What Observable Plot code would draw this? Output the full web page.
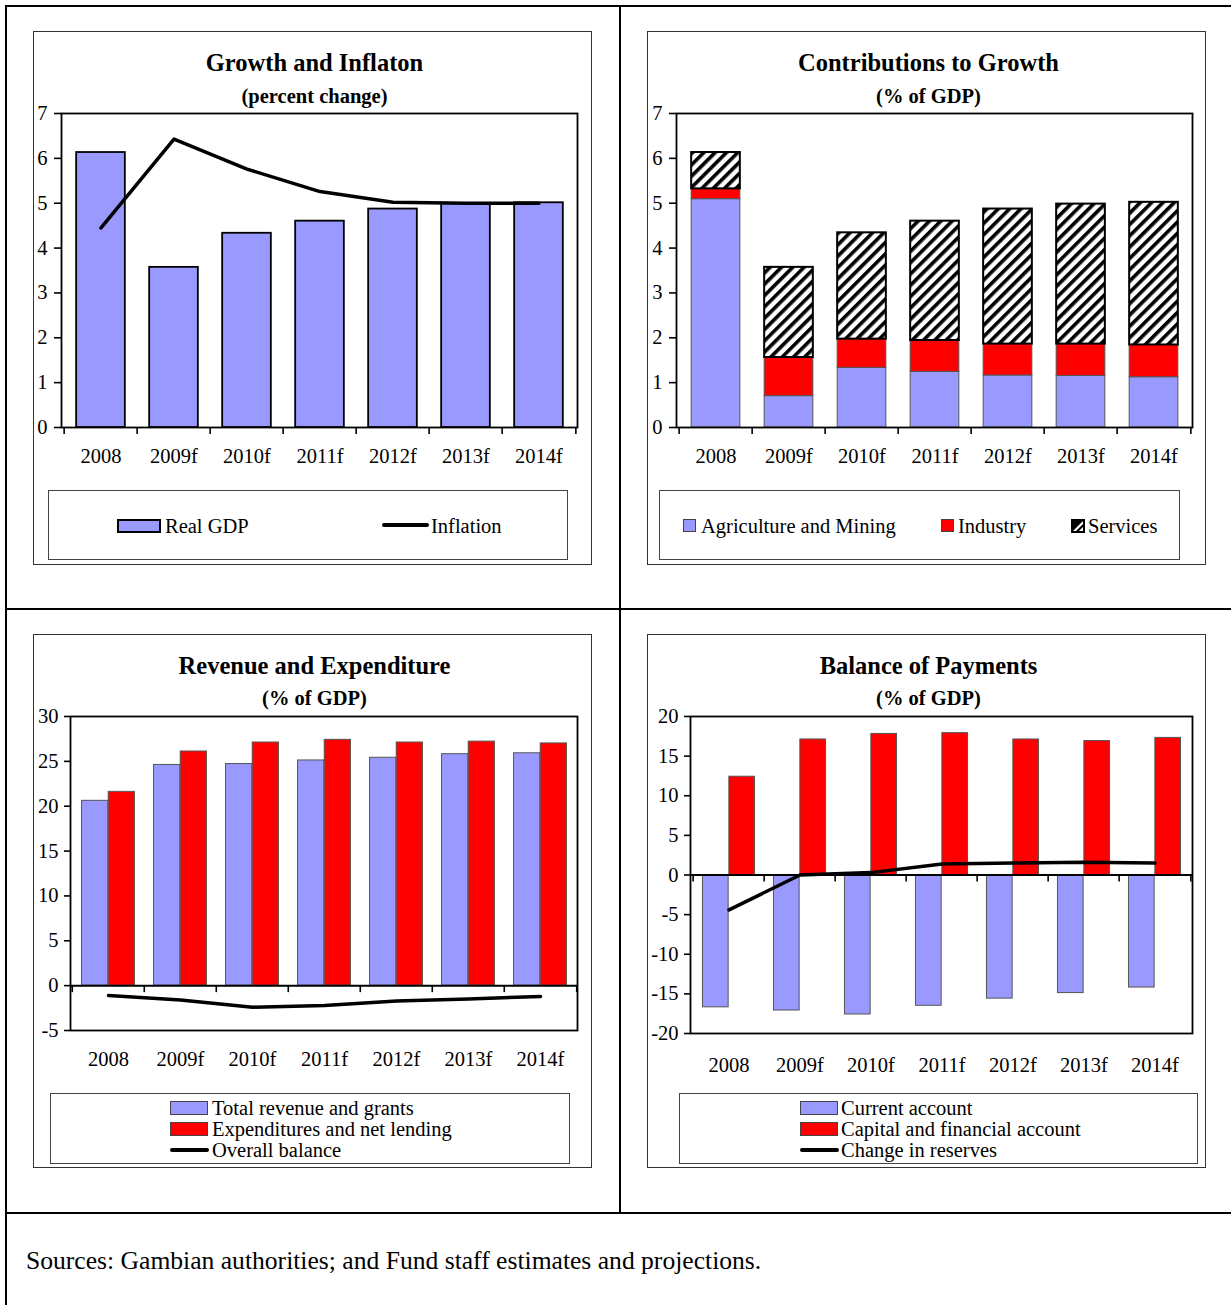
<!DOCTYPE html>
<html>
<head>
<meta charset="utf-8">
<script src="https://cdn.jsdelivr.net/npm/d3@7"></script>
<script src="https://cdn.jsdelivr.net/npm/@observablehq/plot@0.6"></script>
<style>
  html, body { margin: 0; padding: 0; background: #fff; }
  #root { position: relative; width: 1231px; height: 1305px; overflow: hidden; font-family: "Liberation Serif", "Times New Roman", serif; color: #000; }
  .abs { position: absolute; }
  .box { position: absolute; border: 1.5px solid #333; box-sizing: border-box; }
  .lbox { position: absolute; border: 1px solid #444; box-sizing: border-box; }
  .title { position: absolute; font-weight: bold; font-size: 24.5px; line-height: 28px; text-align: center; white-space: nowrap; transform: translateX(-50%); }
  .sub { position: absolute; font-weight: bold; font-size: 20.5px; line-height: 24px; text-align: center; white-space: nowrap; transform: translateX(-50%); }
  .ltext { position: absolute; font-size: 20.5px; line-height: 22px; white-space: nowrap; }
  .rule { position: absolute; background: #000; }
</style>
</head>
<body>
<svg width="0" height="0" style="position:absolute">
  <defs>
    <pattern id="hatch" patternUnits="userSpaceOnUse" width="8" height="8" patternTransform="rotate(45)">
      <rect x="0" y="0" width="8" height="8" fill="#fff"></rect>
      <rect x="0" y="0" width="3.6" height="8" fill="#000"></rect>
    </pattern>
  </defs>
</svg>
<div id="root"></div>
<script>
// ---------------- DATA ----------------
const years = ["2008", "2009f", "2010f", "2011f", "2012f", "2013f", "2014f"];

// Growth and Inflation (percent change)
const realGDP   = [6.13, 3.57, 4.33, 4.60, 4.87, 4.99, 5.01];
const inflation = [4.45, 6.43, 5.76, 5.26, 5.02, 5.00, 5.00];

// Contributions to Growth (% of GDP)
const agriMining = [5.09, 0.70, 1.33, 1.24, 1.16, 1.15, 1.12];
const industry   = [0.23, 0.86, 0.64, 0.70, 0.70, 0.71, 0.72];
const services   = [0.81, 2.01, 2.37, 2.66, 3.01, 3.12, 3.18];

// Revenue and Expenditure (% of GDP)
const revenue      = [20.6, 24.6, 24.7, 25.1, 25.4, 25.8, 25.9];
const expenditures = [21.6, 26.1, 27.1, 27.4, 27.1, 27.2, 27.0];
const balance      = [-1.1, -1.6, -2.4, -2.2, -1.7, -1.5, -1.2];

// Balance of Payments (% of GDP)
const currentAccount = [-16.7, -17.1, -17.6, -16.5, -15.6, -14.9, -14.2];
const capitalAccount = [12.4, 17.1, 17.8, 17.9, 17.1, 16.9, 17.3];
const reserves       = [-4.4, 0.0, 0.3, 1.4, 1.5, 1.6, 1.5];

const ticksP1 = [0, 1, 2, 3, 4, 5, 6, 7];
const ticksP3 = [-5, 0, 5, 10, 15, 20, 25, 30];
const ticksP4 = [-20, -15, -10, -5, 0, 5, 10, 15, 20];

const titles = [
  ["Growth and Inflaton", "(percent change)"],
  ["Contributions to Growth", "(% of GDP)"],
  ["Revenue and Expenditure", "(% of GDP)"],
  ["Balance of Payments", "(% of GDP)"]
];
const sourceNote = "Sources: Gambian authorities; and Fund staff estimates and projections.";

// ---------------- HELPERS ----------------
const root = document.getElementById("root");
function el(cls, css, html) {
  const d = document.createElement("div");
  if (cls) d.className = cls;
  Object.assign(d.style, css);
  if (html !== undefined) d.textContent = html;
  root.appendChild(d);
  return d;
}
const BLUE = "#9999ff", RED = "#ff0000";

// outer grid
el("rule", {left: "5px", top: "5px", width: "1226px", height: "2px"});
el("rule", {left: "5px", top: "5px", width: "2px", height: "1300px"});
el("rule", {left: "619px", top: "6px", width: "2px", height: "1207px"});
el("rule", {left: "6px", top: "608px", width: "1225px", height: "2px"});
el("rule", {left: "6px", top: "1212px", width: "1225px", height: "2px"});

// panel boxes and titles
const panels = [
  {x: 33, y: 31, w: 559, h: 534, ty: 63, sy: 96},
  {x: 647, y: 31, w: 559, h: 534, ty: 63, sy: 96},
  {x: 33, y: 634, w: 559, h: 534, ty: 666, sy: 698},
  {x: 647, y: 634, w: 559, h: 534, ty: 666, sy: 698}
];
panels.forEach((p, i) => {
  el("box", {left: p.x + "px", top: p.y + "px", width: p.w + "px", height: p.h + "px"});
  el("title", {left: (p.x + p.w / 2 + 2) + "px", top: (p.ty - 14) + "px"}, titles[i][0]);
  el("sub", {left: (p.x + p.w / 2 + 2) + "px", top: (p.sy - 12) + "px"}, titles[i][1]);
});

// chart builder
function place(svg, left, top) {
  const d = document.createElement("div");
  d.className = "abs";
  d.style.left = left + "px";
  d.style.top = top + "px";
  d.appendChild(svg);
  root.appendChild(d);
}
const baseStyle = {fontFamily: "Liberation Serif, Times New Roman, serif", fontSize: "20.5px", color: "black", background: "transparent", overflow: "visible"};

function boundaryTicks(step, y0) {
  return [
    Plot.ruleX(years, {x: d => d, y1: () => y0, y2: () => y0, dx: -step / 2, insetBottom: -7, stroke: "black", strokeWidth: 1.6}),
    Plot.ruleX([years[years.length - 1]], {x: d => d, y1: () => y0, y2: () => y0, dx: step / 2, insetBottom: -7, stroke: "black", strokeWidth: 1.6})
  ];
}

// ---------------- PANEL 1 ----------------
{
  const W = 559, H = 375, mL = 28, mR = 15, mT = 8, mB = 53;
  const step = (W - mL - mR) / years.length;
  const ins = step * 0.165;
  const d1 = years.map((y, i) => ({year: y, gdp: realGDP[i], inf: inflation[i]}));
  const svg = Plot.plot({
    width: W, height: H, marginLeft: mL, marginRight: mR, marginTop: mT, marginBottom: mB,
    style: baseStyle,
    x: {type: "band", domain: years, padding: 0},
    y: {domain: [0, 7]},
    marks: [
      Plot.barY(d1, {x: "year", y: "gdp", fill: BLUE, stroke: "black", strokeWidth: 1.8, insetLeft: ins, insetRight: ins}),
      Plot.line(d1, {x: "year", y: "inf", stroke: "black", strokeWidth: 3.5}),
      Plot.frame({stroke: "black", strokeWidth: 1.8}),
      Plot.axisY({ticks: ticksP1, tickSize: 7, tickPadding: 7, tickFormat: d => String(d), strokeWidth: 1.6, label: null}),
      Plot.axisX({tickSize: 0, tickPadding: 21, label: null}),
      ...boundaryTicks(step, 0)
    ]
  });
  place(svg, 33, 105);
}

// ---------------- PANEL 2 ----------------
{
  const W = 559, H = 375, mL = 29, mR = 14, mT = 8, mB = 53;
  const step = (W - mL - mR) / years.length;
  const ins = step * 0.165;
  const d2 = years.map((y, i) => ({
    year: y,
    a0: 0, a1: agriMining[i],
    i0: agriMining[i], i1: agriMining[i] + industry[i],
    s0: agriMining[i] + industry[i], s1: agriMining[i] + industry[i] + services[i]
  }));
  const svg = Plot.plot({
    width: W, height: H, marginLeft: mL, marginRight: mR, marginTop: mT, marginBottom: mB,
    style: baseStyle,
    x: {type: "band", domain: years, padding: 0},
    y: {domain: [0, 7]},
    marks: [
      Plot.barY(d2, {x: "year", y1: "a0", y2: "a1", fill: BLUE, stroke: "#555", strokeWidth: 1, insetLeft: ins, insetRight: ins}),
      Plot.barY(d2, {x: "year", y1: "i0", y2: "i1", fill: RED, stroke: "#555", strokeWidth: 1, insetLeft: ins, insetRight: ins}),
      Plot.barY(d2, {x: "year", y1: "s0", y2: "s1", fill: "url(#hatch)", stroke: "black", strokeWidth: 2, insetLeft: ins, insetRight: ins}),
      Plot.frame({stroke: "black", strokeWidth: 1.8}),
      Plot.axisY({ticks: ticksP1, tickSize: 7, tickPadding: 7, tickFormat: d => String(d), strokeWidth: 1.6, label: null}),
      Plot.axisX({tickSize: 0, tickPadding: 21, label: null}),
      ...boundaryTicks(step, 0)
    ]
  });
  place(svg, 647, 105);
}

// ---------------- PANEL 3 ----------------
{
  const W = 559, H = 375, mL = 37, mR = 15, mT = 8, mB = 53;
  const step = (W - mL - mR) / years.length;
  const outer = step * 0.132, mid = step * 0.5;
  const d3r = years.map((y, i) => ({year: y, rev: revenue[i], exp: expenditures[i], bal: balance[i]}));
  const svg = Plot.plot({
    width: W, height: H, marginLeft: mL, marginRight: mR, marginTop: mT, marginBottom: mB,
    style: baseStyle,
    x: {type: "band", domain: years, padding: 0},
    y: {domain: [-5, 30]},
    marks: [
      Plot.barY(d3r, {x: "year", y: "rev", fill: BLUE, stroke: "#555", strokeWidth: 1, insetLeft: outer, insetRight: mid}),
      Plot.barY(d3r, {x: "year", y: "exp", fill: RED, stroke: "#555", strokeWidth: 1, insetLeft: mid, insetRight: outer}),
      Plot.ruleY([0], {stroke: "black", strokeWidth: 2}),
      Plot.line(d3r, {x: "year", y: "bal", stroke: "black", strokeWidth: 3.5}),
      Plot.frame({stroke: "black", strokeWidth: 1.8}),
      Plot.axisY({ticks: ticksP3, tickSize: 6, tickPadding: 6, tickFormat: d => String(d), strokeWidth: 1.6, label: null}),
      Plot.axisX({tickSize: 0, tickPadding: 21, label: null}),
      ...boundaryTicks(step, 0)
    ]
  });
  place(svg, 33, 708);
}

// ---------------- PANEL 4 ----------------
{
  const W = 559, H = 375, mL = 43, mR = 14, mT = 8, mB = 50;
  const step = (W - mL - mR) / years.length;
  const outer = step * 0.132, mid = step * 0.5;
  const d4 = years.map((y, i) => ({year: y, ca: currentAccount[i], ka: capitalAccount[i], res: reserves[i]}));
  const svg = Plot.plot({
    width: W, height: H, marginLeft: mL, marginRight: mR, marginTop: mT, marginBottom: mB,
    style: baseStyle,
    x: {type: "band", domain: years, padding: 0},
    y: {domain: [-20, 20]},
    marks: [
      Plot.barY(d4, {x: "year", y: "ca", fill: BLUE, stroke: "#555", strokeWidth: 1, insetLeft: outer, insetRight: mid}),
      Plot.barY(d4, {x: "year", y: "ka", fill: RED, stroke: "#555", strokeWidth: 1, insetLeft: mid, insetRight: outer}),
      Plot.ruleY([0], {stroke: "black", strokeWidth: 2}),
      Plot.line(d4, {x: "year", y: "res", stroke: "black", strokeWidth: 3.5}),
      Plot.frame({stroke: "black", strokeWidth: 1.8}),
      Plot.axisY({ticks: ticksP4, tickSize: 6, tickPadding: 6, tickFormat: d => String(d), strokeWidth: 1.6, label: null}),
      Plot.axisX({tickSize: 0, tickPadding: 24, label: null}),
      ...boundaryTicks(step, 0)
    ]
  });
  place(svg, 647, 708);
}

// ---------------- LEGENDS ----------------
function swatch(x, y, w, h, fill, border) {
  el("abs", {left: x + "px", top: y + "px", width: w + "px", height: h + "px", background: fill, border: border, boxSizing: "border-box"});
}
function lineSw(x, y, w) {
  el("abs", {left: x + "px", top: (y - 1.75) + "px", width: w + "px", height: "3.5px", background: "#000", borderRadius: "2px"});
}
function ltext(x, cy, t) {
  el("ltext", {left: x + "px", top: (cy - 11) + "px"}, t);
}

// Panel 1 legend
el("lbox", {left: "48px", top: "490px", width: "520px", height: "70px"});
swatch(117, 519, 44, 14, BLUE, "2px solid #000");
ltext(165, 526, "Real GDP");
lineSw(382, 525, 47);
ltext(431, 526, "Inflation");

// Panel 2 legend
el("lbox", {left: "659px", top: "490px", width: "521px", height: "70px"});
swatch(683, 519, 13, 13, BLUE, "1px solid #444");
ltext(701, 526, "Agriculture and Mining");
swatch(941, 519, 13, 13, RED, "1px solid #444");
ltext(958, 526, "Industry");
{
  const s = document.createElementNS("http://www.w3.org/2000/svg", "svg");
  s.setAttribute("width", "14"); s.setAttribute("height", "14");
  s.innerHTML = '<rect x="1" y="1" width="12" height="12" fill="#fff" stroke="#000" stroke-width="2"/><polygon points="1,1 13,1 1,13" fill="#000"/><polygon points="4,13 13,4 13,7 7,13" fill="#000"/>';
  const d = el("abs", {left: "1071px", top: "519px", width: "14px", height: "14px"});
  d.appendChild(s);
}
ltext(1088, 526, "Services");

// Panel 3 legend
el("lbox", {left: "50px", top: "1093px", width: "520px", height: "71px"});
swatch(170, 1101, 38, 14, BLUE, "1px solid #444");
ltext(212, 1108, "Total revenue and grants");
swatch(170, 1122, 38, 14, RED, "1px solid #444");
ltext(212, 1129, "Expenditures and net lending");
lineSw(170, 1150, 39);
ltext(212, 1150, "Overall balance");

// Panel 4 legend
el("lbox", {left: "679px", top: "1093px", width: "519px", height: "71px"});
swatch(800, 1101, 38, 14, BLUE, "1px solid #444");
ltext(841, 1108, "Current account");
swatch(800, 1122, 38, 14, RED, "1px solid #444");
ltext(841, 1129, "Capital and financial account");
lineSw(800, 1150, 39);
ltext(841, 1150, "Change in reserves");

// Sources
el("abs", {left: "26px", top: "1246px", fontSize: "25.6px", lineHeight: "30px", whiteSpace: "nowrap"}, sourceNote);
</script>
</body>
</html>
